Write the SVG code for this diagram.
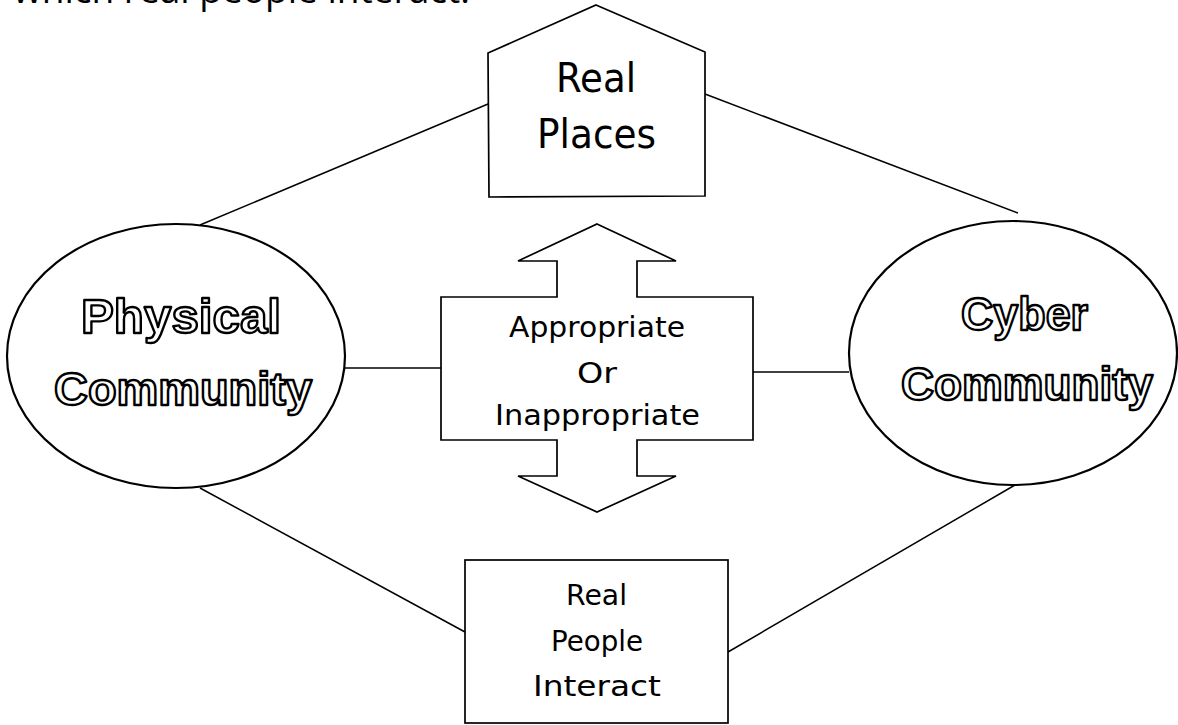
<svg xmlns="http://www.w3.org/2000/svg" width="1178" height="725" viewBox="0 0 1178 725">
  <style>
    .shape { fill: #ffffff; stroke: #000000; stroke-width: 1.7; stroke-linejoin: miter; }
    .ell { fill: #ffffff; stroke: #000000; stroke-width: 2.2; }
    .conn { stroke: #000000; stroke-width: 1.5; fill: none; }
    .hand { font-family: "DejaVu Sans", "Noto Sans", sans-serif; fill: #000000; text-anchor: middle; }
    .outline { font-family: "Liberation Sans", Arial, sans-serif; font-weight: bold; fill: #ffffff; stroke: #000000; stroke-width: 2.4; stroke-linejoin: round; text-anchor: middle; }
    .top { font-family: "Open Sans", "Noto Sans", sans-serif; fill: #000000; }
  </style>
  <rect x="0" y="0" width="1178" height="725" fill="#ffffff"/>

  <text class="top" x="13" y="3" font-size="36" textLength="457" lengthAdjust="spacingAndGlyphs">which real people interact.</text>

  <g id="connectors">
    <line class="conn" x1="488" y1="104" x2="200" y2="225"/>
    <line class="conn" x1="705" y1="94" x2="1018" y2="213"/>
    <line class="conn" x1="345" y1="368" x2="441" y2="368"/>
    <line class="conn" x1="753" y1="372" x2="849" y2="372"/>
    <line class="conn" x1="200" y1="488" x2="465" y2="632"/>
    <line class="conn" x1="1015" y1="485" x2="728" y2="652"/>
  </g>

  <g id="real-places">
    <polygon class="shape" points="596,5 705,52 705,196 489,197 488,53"/>
    <text class="hand" x="596" y="92" font-size="40" textLength="80" lengthAdjust="spacingAndGlyphs">Real</text>
    <text class="hand" x="596.5" y="148" font-size="40" textLength="119" lengthAdjust="spacingAndGlyphs">Places</text>
  </g>

  <g id="physical-community">
    <ellipse class="ell" cx="176" cy="356" rx="169" ry="132"/>
    <text class="outline" x="181" y="333" font-size="49" textLength="200" lengthAdjust="spacingAndGlyphs">Physical</text>
    <text class="outline" x="183" y="405" font-size="47" textLength="258" lengthAdjust="spacingAndGlyphs">Community</text>
  </g>

  <g id="cyber-community">
    <ellipse class="ell" cx="1013" cy="353" rx="164" ry="132"/>
    <text class="outline" x="1024.5" y="330" font-size="47" textLength="127" lengthAdjust="spacingAndGlyphs">Cyber</text>
    <text class="outline" x="1027" y="400" font-size="47" textLength="252" lengthAdjust="spacingAndGlyphs">Community</text>
  </g>

  <g id="appropriate">
    <polygon class="shape" points="597,224 676,261 637,261 637,297 753,297 753,440 637,440 637,476 676,476 597,512 518,476 557,476 557,440 441,440 441,297 557,297 557,261 518,261"/>
    <text class="hand" x="597" y="337" font-size="28" textLength="176" lengthAdjust="spacingAndGlyphs">Appropriate</text>
    <text class="hand" x="597" y="383" font-size="28" textLength="40" lengthAdjust="spacingAndGlyphs">Or</text>
    <text class="hand" x="597.5" y="425" font-size="28" textLength="205" lengthAdjust="spacingAndGlyphs">Inappropriate</text>
  </g>

  <g id="real-people-interact">
    <rect class="shape" x="465" y="560" width="263" height="163"/>
    <text class="hand" x="596.5" y="605" font-size="28" textLength="61" lengthAdjust="spacingAndGlyphs">Real</text>
    <text class="hand" x="597" y="651" font-size="28" textLength="92" lengthAdjust="spacingAndGlyphs">People</text>
    <text class="hand" x="597" y="696" font-size="28" textLength="128" lengthAdjust="spacingAndGlyphs">Interact</text>
  </g>
</svg>
